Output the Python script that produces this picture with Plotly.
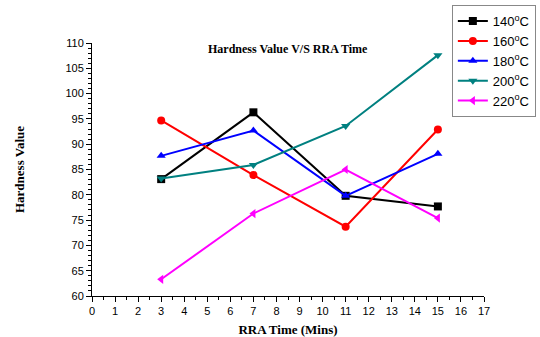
import plotly.graph_objects as go

times = [3, 7, 11, 15]
series_names = ["140<sup>o</sup>C", "160<sup>o</sup>C", "180<sup>o</sup>C", "200<sup>o</sup>C", "220<sup>o</sup>C"]
h140 = [83.1, 96.3, 79.8, 77.7]
h160 = [94.7, 83.9, 73.7, 92.9]
h180 = [87.7, 92.7, 79.8, 88.1]
h200 = [83.2, 85.9, 93.6, 107.6]
h220 = [63.3, 76.3, 85.0, 75.4]

colors = ["#000000", "#ff0000", "#0000ff", "#008080", "#ff00ff"]
symbols = ["square", "circle", "triangle-up", "triangle-down", "triangle-left"]

fig = go.Figure()
for name, vals, c, s in zip(series_names, [h140, h160, h180, h200, h220], colors, symbols):
    fig.add_trace(go.Scatter(x=times, y=vals, name=name, mode="lines+markers",
                             line=dict(color=c, width=2),
                             marker=dict(color=c, symbol=s, size=8)))

serif = "Liberation Serif"
fig.update_layout(
    width=540, height=337,
    margin=dict(l=92, r=56, t=43, b=41, autoexpand=False),
    paper_bgcolor="white", plot_bgcolor="white",
    font=dict(family="Liberation Sans", size=11, color="black"),
    showlegend=True,
    legend=dict(x=0.918, y=1.15, xanchor="left", yanchor="top",
                bordercolor="#888888", borderwidth=1, bgcolor="white",
                font=dict(size=13, family="Liberation Sans"),
                tracegroupgap=0, itemwidth=30),
    annotations=[
        dict(text="<b>Hardness Value V/S RRA Time</b>", x=0.5, y=1.01, xref="paper", yref="paper",
             xanchor="center", yanchor="top", showarrow=False,
             font=dict(family=serif, size=12, color="black")),
    ],
    xaxis=dict(range=[0, 17], dtick=1, tick0=0, showline=True, linecolor="black", linewidth=1,
               ticks="outside", ticklen=5, tickcolor="black", showgrid=False, zeroline=False,
               minor=dict(dtick=0.5, ticks="outside", ticklen=3, tickcolor="black"),
               title=dict(text="<b>RRA Time (Mins)</b>", font=dict(family=serif, size=13), standoff=10),
               tickfont=dict(size=11)),
    yaxis=dict(range=[60, 110], dtick=5, tick0=60, showline=True, linecolor="black", linewidth=1,
               ticks="outside", ticklen=5, tickcolor="black", showgrid=False, zeroline=False,
               minor=dict(dtick=1, ticks="outside", ticklen=3, tickcolor="black"),
               title=dict(text="<b>Hardness Value</b>", font=dict(family=serif, size=13), standoff=37),
               tickfont=dict(size=11)),
)

fig.write_html("out.html", config={"displayModeBar": False},
               post_script="document.body.style.margin='0';document.body.style.padding='0';")
